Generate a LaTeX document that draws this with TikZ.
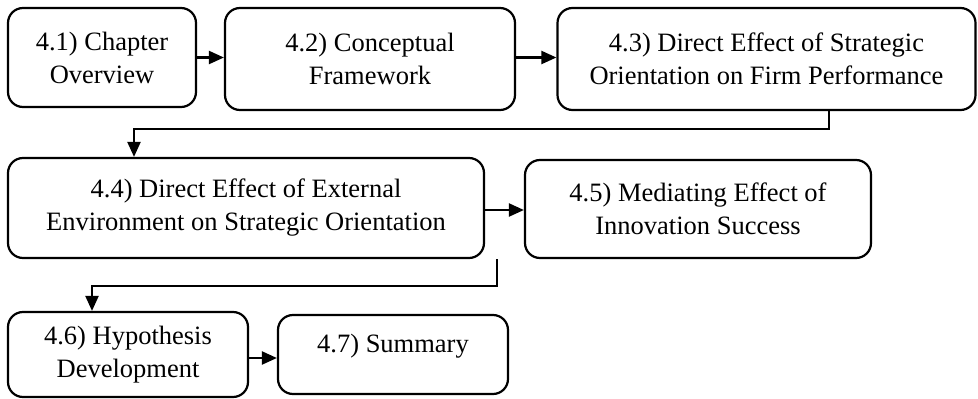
\documentclass[tikz,border=0pt]{standalone}
\usepackage{fontspec}
\setmainfont{Liberation Serif}
\usetikzlibrary{arrows.meta, positioning, calc}

\begin{document}
\begin{tikzpicture}[x=1pt, y=-1pt,
        box/.style={rectangle, draw, line width=2.2pt, rounded corners=15pt, align=center, inner sep=0pt, font=\fontsize{26.5}{33}\selectfont},
        arrow/.style={-{Triangle[length=15pt,width=13pt]}, line width=2.2pt}
    ]
        \useasboundingbox (0,0) rectangle (978,399);

        \node[box, minimum width=188pt, minimum height=99pt] (b1) at (102,57.5) {4.1) Chapter\\Overview};
        \node[box, minimum width=290pt, minimum height=102pt] (b2) at (370,59) {4.2) Conceptual\\Framework};
        \node[box, minimum width=418pt, minimum height=102pt] (b3) at (766.5,59) {4.3) Direct Effect of Strategic\\Orientation on Firm Performance};
        \node[box, minimum width=476pt, minimum height=100pt] (b4) at (246,208) {4.4) Direct Effect of External\\Environment on Strategic Orientation};
        \node[box, minimum width=346pt, minimum height=98pt] (b5) at (698,209) {4.5) Mediating Effect of\\Innovation Success};
        \node[box, minimum width=240pt, minimum height=85pt] (b6) at (128,354.5) {4.6) Hypothesis\\Development};
        \node[box, minimum width=230pt, minimum height=79pt] (b7) at (393,354.5) {4.7) Summary\\[-11pt]};

        \draw[arrow] (b1.east) -- (b1.east -| b2.west);
        \draw[arrow] (b1.east -| b2.east) -- (b1.east -| b3.west);
        \draw[arrow] ([xshift=62.5pt]b3.south) -- ++(0,18) -| ([xshift=-112pt]b4.north);
        \draw[arrow] ([yshift=-2pt]b4.east) -- ([yshift=-2pt]b4.east -| b5.west);
        \draw[arrow] ([xshift=-201pt]b5.south) -- ++(0,27) -| ([xshift=-36pt]b6.north);
        \draw[arrow] ([yshift=-3.5pt]b6.east) -- ([yshift=-3.5pt]b6.east -| b7.west);
    \end{tikzpicture}
\end{document}
